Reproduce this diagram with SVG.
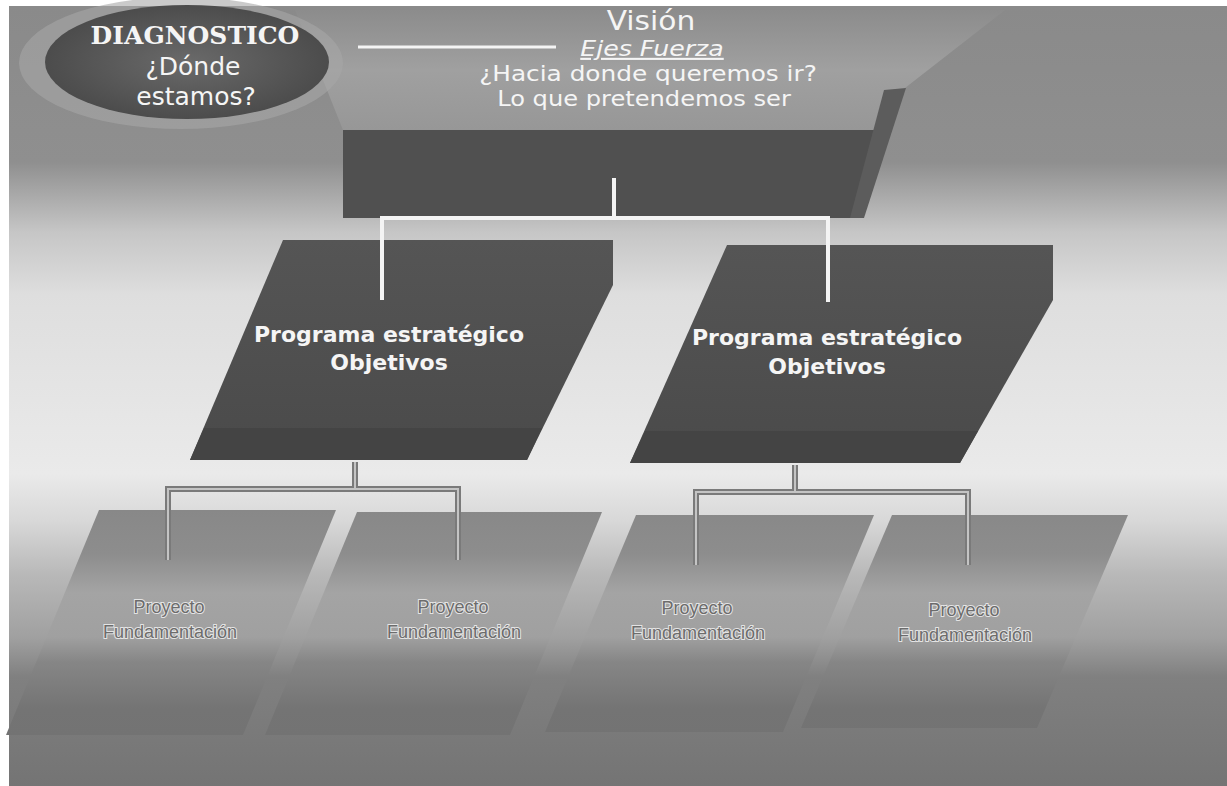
<svg xmlns="http://www.w3.org/2000/svg" width="1227" height="786" viewBox="0 0 1227 786">
<defs>
<linearGradient id="bg" gradientUnits="userSpaceOnUse" x1="0" y1="6" x2="0" y2="786">
<stop offset="0" stop-color="#8a8a8a"/>
<stop offset="0.2" stop-color="#8f8f8f"/>
<stop offset="0.29" stop-color="#c6c6c6"/>
<stop offset="0.37" stop-color="#dedede"/>
<stop offset="0.6" stop-color="#eaeaea"/>
<stop offset="0.66" stop-color="#d8d8d8"/>
<stop offset="0.73" stop-color="#b8b8b8"/>
<stop offset="0.81" stop-color="#a0a0a0"/>
<stop offset="0.86" stop-color="#808080"/>
<stop offset="1" stop-color="#747474"/>
</linearGradient>
<radialGradient id="ell" cx="0.5" cy="0.5" r="0.5">
<stop offset="0" stop-color="#6a6a6a"/>
<stop offset="1" stop-color="#4c4c4c"/>
</radialGradient>
<linearGradient id="top" x1="0" y1="0" x2="0" y2="1">
<stop offset="0" stop-color="#8c8c8c"/>
<stop offset="0.5" stop-color="#a0a0a0"/>
<stop offset="1" stop-color="#979797"/>
</linearGradient>
<linearGradient id="prog" x1="0" y1="0" x2="0" y2="1">
<stop offset="0" stop-color="#555555"/>
<stop offset="1" stop-color="#4a4a4a"/>
</linearGradient>
<linearGradient id="proj" gradientUnits="userSpaceOnUse" x1="0" y1="510" x2="0" y2="786">
<stop offset="0" stop-color="#888888"/>
<stop offset="0.16" stop-color="#8d8d8d"/>
<stop offset="0.3" stop-color="#a4a4a4"/>
<stop offset="0.46" stop-color="#a0a0a0"/>
<stop offset="0.55" stop-color="#868686"/>
<stop offset="0.72" stop-color="#747474"/>
<stop offset="1" stop-color="#717171"/>
</linearGradient>
</defs>
<style>
.w{fill:#f5f5f5;font-family:"DejaVu Sans",sans-serif;text-anchor:middle}
.b{font-weight:bold}
.s{font-family:"DejaVu Serif",serif}
.p{fill:#6c6c6c;stroke:#e4e4e4;stroke-width:2;paint-order:stroke;font-family:"Liberation Sans",Arial,sans-serif;font-size:18px;text-anchor:middle}
.wl{stroke:#f4f4f4;stroke-width:4;fill:none}
.gl{stroke:#7a7a7a;stroke-width:6;fill:none}
.gi{stroke:#c4c4c4;stroke-width:2;fill:none}
</style>
<rect x="9" y="6" width="1218" height="780" fill="url(#bg)"/>

<g id="vision">
<polygon points="295,10 1005,10 905,88 885,130 343,130" fill="url(#top)"/>
<polygon points="343,130 885,130 852,218 343,218" fill="#505050"/>
<polygon points="884,90 906,88 864,218 850,218" fill="#5c5c5c"/>
<text class="w" transform="translate(651,30) scale(1.1,1)" font-size="27">Visión</text>
<text class="w" transform="translate(652,56) scale(1.2,1)" font-size="21" font-style="italic" text-decoration="underline">Ejes Fuerza</text>
<text class="w" transform="translate(648,81) scale(1.18,1)" font-size="21">¿Hacia donde queremos ir?</text>
<text class="w" transform="translate(644,106) scale(1.15,1)" font-size="21">Lo que pretendemos ser</text>
</g>

<g id="diagnostico">
<ellipse cx="181" cy="63" rx="162" ry="66" fill="#a6a6a6" opacity="0.6"/>
<ellipse cx="187" cy="62" rx="142" ry="57" fill="url(#ell)"/>
<text class="w b s" x="195" y="44" font-size="25">DIAGNOSTICO</text>
<text class="w" x="193" y="75" font-size="25">¿Dónde</text>
<text class="w" x="196" y="105" font-size="25">estamos?</text>
</g>

<g id="programa-1">
<polygon points="283,240 613,240 613,285 527,460 190,460" fill="url(#prog)"/>
<polygon points="204,428 542,428 527,460 190,460" fill="#444444"/>
<text class="w b" x="389" y="342" font-size="22">Programa estratégico</text>
<text class="w b" x="389" y="370" font-size="22">Objetivos</text>
</g>

<g id="programa-2">
<polygon points="727,245 1053,245 1053,300 960,463 630,463" fill="url(#prog)"/>
<polygon points="645,431 978,431 960,463 630,463" fill="#444444"/>
<text class="w b" x="827" y="345" font-size="22">Programa estratégico</text>
<text class="w b" x="827" y="374" font-size="22">Objetivos</text>
</g>

<g id="proyecto-1">
<polygon points="99,510 336,510 243,735 6,735" fill="url(#proj)"/>
<text class="p" x="169" y="613">Proyecto</text>
<text class="p" x="170" y="638">Fundamentación</text>
</g>
<g id="proyecto-2">
<polygon points="357,512 602,512 510,735 265,735" fill="url(#proj)"/>
<text class="p" x="453" y="613">Proyecto</text>
<text class="p" x="454" y="638">Fundamentación</text>
</g>
<g id="proyecto-3">
<polygon points="636,515 874,515 783,732 545,732" fill="url(#proj)"/>
<text class="p" x="697" y="614">Proyecto</text>
<text class="p" x="698" y="639">Fundamentación</text>
</g>
<g id="proyecto-4">
<polygon points="892,515 1128,515 1037,728 801,728" fill="url(#proj)"/>
<text class="p" x="964" y="616">Proyecto</text>
<text class="p" x="965" y="641">Fundamentación</text>
</g>

<g id="connectors">
<line x1="358" y1="47" x2="556" y2="47" stroke="#f4f4f4" stroke-width="3"/>
<polyline class="wl" points="614,178 614,218"/>
<polyline class="wl" points="382,300 382,218 828,218 828,302"/>
<g>
<polyline class="gl" points="355,462 355,489"/>
<polyline class="gl" points="168,560 168,489 458,489 458,560"/>
<polyline class="gi" points="355,462 355,489"/>
<polyline class="gi" points="168,560 168,489 458,489 458,560"/>
<polyline class="gl" points="795,465 795,492"/>
<polyline class="gl" points="696,565 696,492 968,492 968,565"/>
<polyline class="gi" points="795,465 795,492"/>
<polyline class="gi" points="696,565 696,492 968,492 968,565"/>
</g>
</g>
</svg>
